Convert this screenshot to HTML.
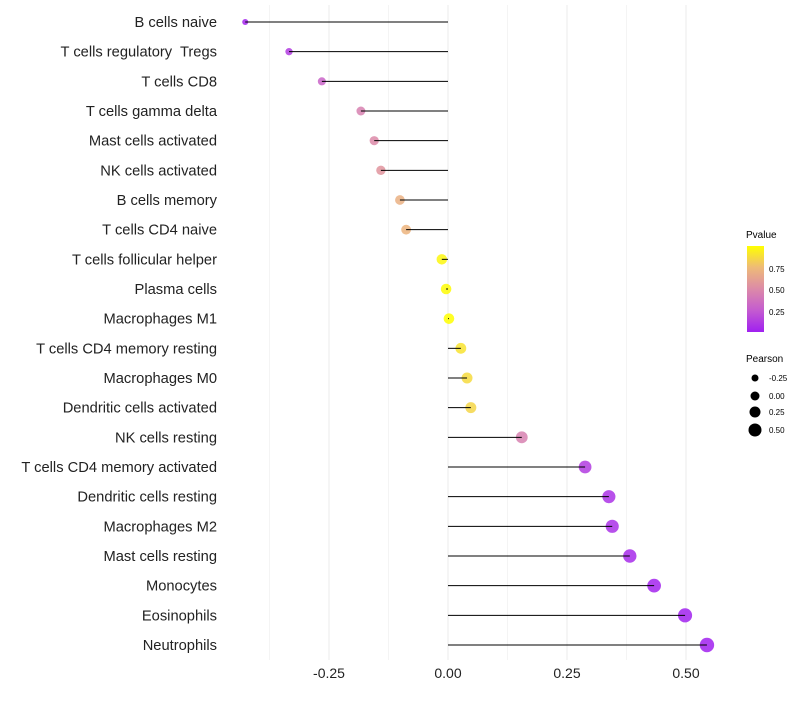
<!DOCTYPE html>
<html><head><meta charset="utf-8"><style>
body{margin:0;background:#fff;font-family:"Liberation Sans",sans-serif}
text{white-space:pre}
</style></head><body>
<svg id="chart" width="800" height="700" viewBox="0 0 800 700">
<defs><linearGradient id="pg" x1="0" y1="1" x2="0" y2="0">
<stop offset="0" stop-color="#a020f0"/><stop offset="0.25" stop-color="#c45bd0"/><stop offset="0.5" stop-color="#dc8aa8"/><stop offset="0.75" stop-color="#eeba78"/><stop offset="1" stop-color="#ffff00"/></linearGradient></defs>
<g id="grid"></g><g id="marks"></g><g id="labels"></g>
<g font-size="10">
<text x="746" y="238">Pvalue</text>
<rect x="747" y="246" width="17" height="86" fill="url(#pg)"/>
<text x="769" y="272" font-size="8">0.75</text>
<text x="769" y="293" font-size="8">0.50</text>
<text x="769" y="315" font-size="8">0.25</text>
</g>
<g font-size="8">
<text x="746" y="362" font-size="10">Pearson</text>
<circle cx="755" cy="378" r="3.5"/><text x="769" y="381">-0.25</text>
<circle cx="755" cy="396" r="4.5"/><text x="769" y="399">0.00</text>
<circle cx="755" cy="412" r="5.5"/><text x="769" y="415">0.25</text>
<circle cx="755" cy="430" r="6.5"/><text x="769" y="433">0.50</text>
</g>
</svg>
<script>
const categories=["B cells naive","T cells regulatory  Tregs","T cells CD8","T cells gamma delta","Mast cells activated","NK cells activated","B cells memory","T cells CD4 naive","T cells follicular helper","Plasma cells","Macrophages M1","T cells CD4 memory resting","Macrophages M0","Dendritic cells activated","NK cells resting","T cells CD4 memory activated","Dendritic cells resting","Macrophages M2","Mast cells resting","Monocytes","Eosinophils","Neutrophils"];
const pearson=[-0.426,-0.334,-0.265,-0.183,-0.155,-0.141,-0.101,-0.088,-0.013,-0.004,0.002,0.027,0.040,0.048,0.155,0.288,0.338,0.345,0.382,0.433,0.498,0.544];
const pvalues=[0.02,0.12,0.3,0.45,0.5,0.55,0.7,0.72,0.97,0.99,1.0,0.9,0.87,0.85,0.45,0.12,0.08,0.07,0.05,0.02,0.01,0.005];
const xTicks=[-0.25,0,0.25,0.5];
const xTickLabels=["-0.25","0.00","0.25","0.50"];
const NS="http://www.w3.org/2000/svg";
const x=v=>448+v*476;
const y=i=>22+i*(623/21);
const r=v=>Math.sqrt(Math.max(2.5,28+44*v));
const stops=[[0,[160,32,240]],[0.25,[196,91,208]],[0.5,[220,138,168]],[0.75,[238,186,120]],[1,[255,255,0]]];
function col(p){for(let k=1;k<stops.length;k++){if(p<=stops[k][0]){const a=stops[k-1],b=stops[k],t=(p-a[0])/(b[0]-a[0]);return "rgb("+a[1].map((c,j)=>Math.round(c+(b[1][j]-c)*t)).join(",")+")";}}return "rgb(255,255,0)";}
function mk(tag,attrs,parent){const e=document.createElementNS(NS,tag);for(const k in attrs)e.setAttribute(k,attrs[k]);document.getElementById(parent).appendChild(e);return e;}
const minor=[-0.375,-0.125,0.125,0.375];
minor.forEach(v=>{const l=mk("line",{x1:x(v),x2:x(v),y1:5,y2:660,stroke:"#f0f0f0","stroke-width":0.7},"grid");

});
xTicks.forEach((v,i)=>{const l=mk("line",{x1:x(v),x2:x(v),y1:5,y2:660,stroke:"#ebebeb","stroke-width":1},"grid");


const t=mk("text",{x:x(v),y:678,"text-anchor":"middle","font-size":14,fill:"#222"},"labels");t.textContent=xTickLabels[i];

});
categories.forEach((c,i)=>{
const t=mk("text",{x:217,y:y(i)+5,"text-anchor":"end","font-size":14.7,fill:"#222"},"labels");t.textContent=c;


const p=mk("circle",{cx:x(pearson[i]),cy:y(i),r:r(pearson[i]),fill:col(pvalues[i]),"fill-opacity":0.85},"marks");


const s=mk("line",{x1:x(0),x2:x(pearson[i]),y1:y(i),y2:y(i),stroke:"#000","stroke-width":1},"marks");


});
</script>
</body></html>
